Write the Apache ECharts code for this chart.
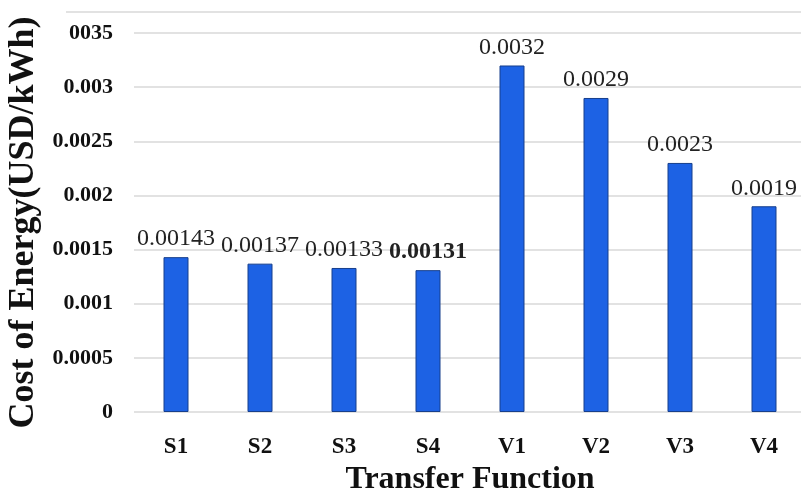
<!DOCTYPE html>
<html><head><meta charset="utf-8">
<script src="https://cdn.jsdelivr.net/npm/echarts@6/dist/echarts.min.js"></script>
<style>html,body{margin:0;padding:0;background:#fff}#c{width:801px;height:500px}</style>
</head><body><div id="c"></div>
<script>
const categories = ['S1','S2','S3','S4','V1','V2','V3','V4'];
const values = [0.00143, 0.00137, 0.00133, 0.00131, 0.0032, 0.0029, 0.0023, 0.0019];
const valueLabels = ['0.00143','0.00137','0.00133','0.00131','0.0032','0.0029','0.0023','0.0019'];
const tickLabels = {'0':'0','0.0005':'0.0005','0.001':'0.001','0.0015':'0.0015','0.002':'0.002','0.0025':'0.0025','0.003':'0.003','0.0035':'0035'};
const serif = '"Liberation Serif", "DejaVu Serif", serif';
const chart = echarts.init(document.getElementById('c'));
chart.setOption({
  animation: false,
  grid: { left: 134, top: 33, width: 672, bottom: 88, containLabel: false, outerBoundsMode: 'none' },
  graphic: [{ type: 'line', shape: { x1: 66, y1: 12, x2: 801, y2: 12 }, style: { stroke: '#d9d9d9', lineWidth: 1.5 } }],
  xAxis: {
    type: 'category', data: categories,
    axisLine: { show: false }, axisTick: { show: false },
    axisLabel: { fontFamily: serif, fontWeight: 'bold', fontSize: 23, color: '#111', margin: 24 },
    name: 'Transfer Function', nameLocation: 'middle', nameGap: 49,
    nameTextStyle: { fontFamily: serif, fontWeight: 'bold', fontSize: 32, color: '#111' }
  },
  yAxis: {
    type: 'value', min: 0, max: 0.0035, interval: 0.0005,
    axisLine: { show: false }, axisTick: { show: false },
    splitLine: { lineStyle: { color: '#d9d9d9', width: 1.5 } },
    axisLabel: { fontFamily: serif, fontWeight: 'bold', fontSize: 22, color: '#111', margin: 21,
      formatter: v => tickLabels[String(+v.toFixed(4))] ?? String(v) },
    name: 'Cost of Energy(USD/kWh)', nameLocation: 'middle', nameGap: 88, nameRotate: 90,
    nameTextStyle: { fontFamily: serif, fontWeight: 'bold', fontSize: 36, color: '#111' }
  },
  series: [{
    type: 'bar', barWidth: 25,
    data: values.map((v, i) => ({ value: v, label: i === 3 ? { fontWeight: 'bold' } : {} })),
    itemStyle: { color: '#1d62e4', borderColor: '#173f8c', borderWidth: 1 },
    label: { show: true, position: 'top', distance: 6, fontFamily: serif, fontSize: 24, color: '#222',
      formatter: p => valueLabels[p.dataIndex] }
  }]
});
</script></body></html>
